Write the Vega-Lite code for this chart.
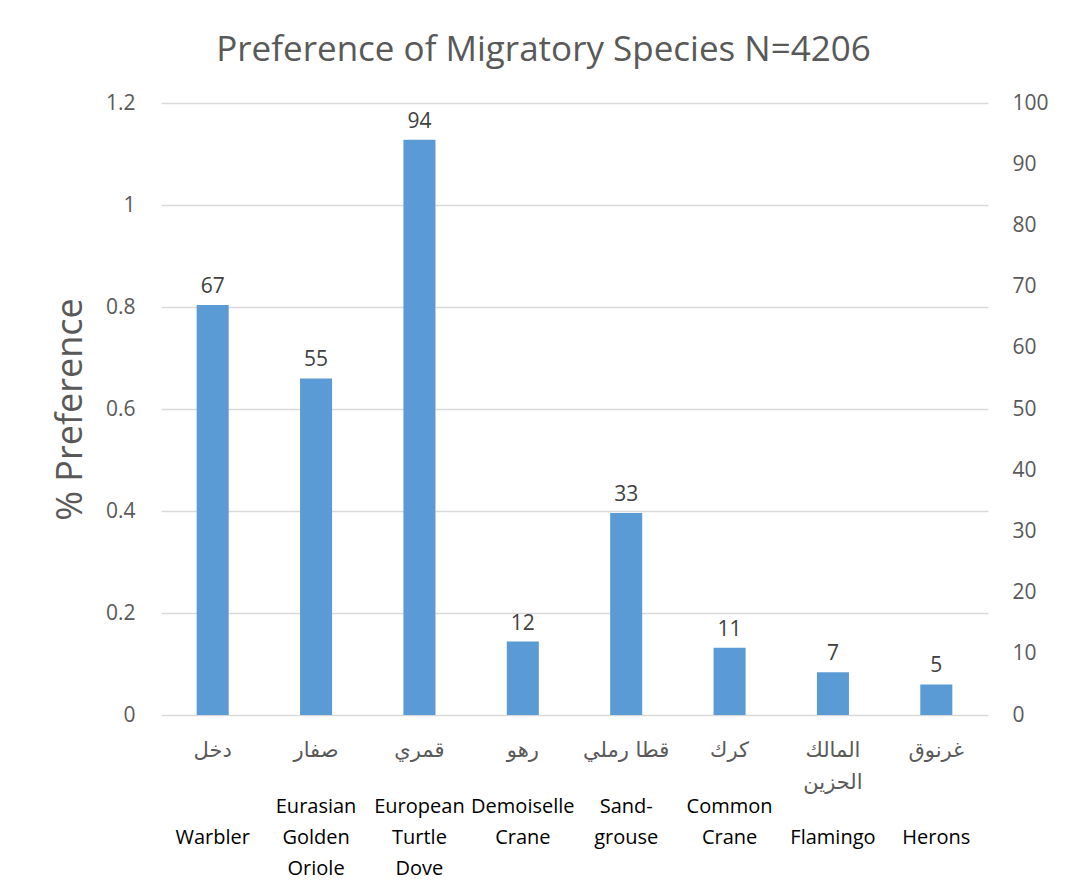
{
  "$schema": "https://vega.github.io/schema/vega-lite/v6.json",
  "autosize": "none",
  "width": 827,
  "height": 612,
  "padding": {"left": 161, "top": 103, "right": 79, "bottom": 171},
  "background": "white",
  "config": {
    "view": {"stroke": null},
    "font": "Open Sans"
  },
  "title": {
    "text": "Preference of Migratory Species N=4206",
    "fontSize": 35,
    "font": "Open Sans",
    "fontWeight": "normal",
    "color": "#595959",
    "anchor": "middle",
    "dx": -31,
    "offset": 24
  },
  "data": {
    "values": [
      {"arabic": "دخل", "english": "Warbler", "count": 67},
      {"arabic": "صفار", "english": "Eurasian Golden Oriole", "count": 55},
      {"arabic": "قمري", "english": "European Turtle Dove", "count": 94},
      {"arabic": "رهو", "english": "Demoiselle Crane", "count": 12},
      {"arabic": "قطا رملي", "english": "Sand-grouse", "count": 33},
      {"arabic": "كرك", "english": "Common Crane", "count": 11},
      {"arabic": "المالك الحزين", "english": "Flamingo", "count": 7},
      {"arabic": "غرنوق", "english": "Herons", "count": 5}
    ]
  },
  "layer": [
    {
      "mark": {"type": "bar", "opacity": 0},
      "encoding": {
        "x": {
          "field": "english", "type": "nominal", "sort": null,
          "scale": {"paddingInner": 0.69, "paddingOuter": 0.345},
          "axis": {
            "orient": "bottom", "title": null, "domain": false, "ticks": false,
            "labelAngle": 0, "labelFontSize": 20, "labelColor": "#000000",
            "labelFont": "Open Sans", "labelPadding": 91, "labelBaseline": "middle",
            "labelLineHeight": 31,
            "labelExpr": "length(split(replace(datum.value, '-', '- '), ' ')) == 1 ? ['', datum.value] : split(replace(datum.value, '-', '- '), ' ')"
          }
        },
        "y": {
          "field": "count", "type": "quantitative",
          "scale": {"domain": [0, 100], "nice": false},
          "axis": {
            "orient": "left", "title": "% Preference", "titleFontSize": 36,
            "titleFontWeight": "normal", "titleColor": "#595959", "titlePadding": 16,
            "titleFont": "Open Sans",
            "values": [0, 16.6666667, 33.3333333, 50, 66.6666667, 83.3333333, 100],
            "labelExpr": "format(datum.value * 0.012, '.1~f')",
            "labelFontSize": 21, "labelColor": "#595959", "labelPadding": 26,
            "domain": false, "ticks": false,
            "grid": true, "gridColor": "#d9d9d9", "gridWidth": 1.3
          }
        }
      }
    },
    {
      "layer": [
        {
          "mark": {"type": "bar", "color": "#5B9BD5"},
          "encoding": {
            "x": {
              "field": "arabic", "type": "nominal", "sort": null,
              "scale": {"paddingInner": 0.69, "paddingOuter": 0.345},
              "axis": {
                "orient": "bottom", "title": null, "domain": false, "ticks": false,
                "labelAngle": 0, "labelFontSize": 21, "labelColor": "#595959",
                "labelFont": "DejaVu Sans", "labelPadding": 24, "labelLineHeight": 32,
                "labelExpr": "datum.value == 'المالك الحزين' ? ['المالك', 'الحزين'] : datum.value"
              }
            },
            "y": {
              "field": "count", "type": "quantitative",
              "scale": {"domain": [0, 100], "nice": false},
              "axis": {
                "orient": "right", "title": null, "values": [0,10,20,30,40,50,60,70,80,90,100],
                "labelFontSize": 21, "labelColor": "#595959", "labelPadding": 24,
                "domain": false, "ticks": false, "grid": false
              }
            }
          }
        },
        {
          "mark": {"type": "text", "baseline": "bottom", "dy": -8, "fontSize": 21, "color": "#404040"},
          "encoding": {
            "x": {"field": "arabic", "type": "nominal", "sort": null},
            "y": {"field": "count", "type": "quantitative"},
            "text": {"field": "count", "type": "quantitative"}
          }
        }
      ]
    }
  ],
  "resolve": {"scale": {"x": "independent", "y": "independent"}, "axis": {"x": "independent", "y": "independent"}}
}
